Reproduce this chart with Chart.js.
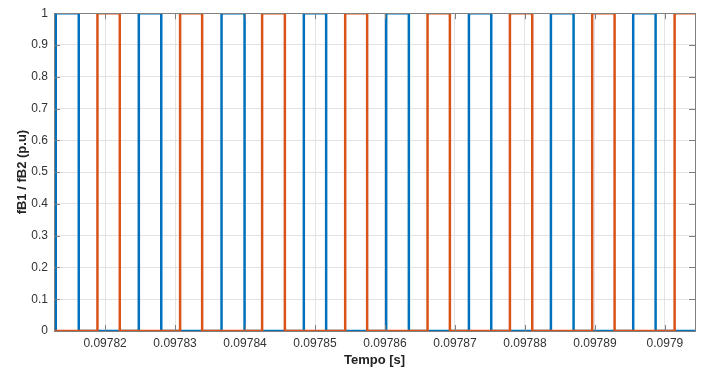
<!DOCTYPE html>
<html>
<head>
<meta charset="utf-8">
<script src="https://cdn.jsdelivr.net/npm/chart.js@4"></script>
<style>
  html, body { margin: 0; padding: 0; background: #fff; }
  #wrap { width: 715px; height: 371px; }
</style>
</head>
<body>
<div id="wrap"><canvas id="chart"></canvas></div>
<script>
// switching edges (seconds)
const blueRise = [0.09781295, 0.09782482, 0.09783664, 0.09784840, 0.09786017, 0.09787199, 0.09788371, 0.09789547];
const blueFall = [0.09781624, 0.09782803, 0.09783993, 0.09785159, 0.09786341, 0.09787518, 0.09788695, 0.09789867];
const orangeRise = [0.09781891, 0.09783072, 0.09784244, 0.09785431, 0.09786608, 0.09787785, 0.09788961, 0.09790139];
const orangeFall = [0.09782210, 0.09783387, 0.09784569, 0.09785745, 0.09786927, 0.09788104, 0.09789281];

const xTicks = [0.09782, 0.09783, 0.09784, 0.09785, 0.09786, 0.09787, 0.09788, 0.09789, 0.0979];
const xTickLabels = ["0.09782", "0.09783", "0.09784", "0.09785", "0.09786", "0.09787", "0.09788", "0.09789", "0.0979"];
const yTicks = [0, 0.1, 0.2, 0.3, 0.4, 0.5, 0.6, 0.7, 0.8, 0.9, 1];
const yTickLabels = ["0", "0.1", "0.2", "0.3", "0.4", "0.5", "0.6", "0.7", "0.8", "0.9", "1"];

const xMin = 0.0978127;
const xMax = 0.0979043;

function squareWave(rises, falls) {
  const edges = rises.map(t => ({ x: t, y: 1 }))
    .concat(falls.map(t => ({ x: t, y: 0 })))
    .sort((a, b) => a.x - b.x);
  const last = edges[edges.length - 1];
  return [{ x: xMin, y: edges[0].y === 1 ? 0 : 1 }, ...edges, { x: xMax, y: last.y }];
}

const axisColor = "#808080";
const textColor = "#333333";

// MATLAB style box with inward tick marks
const boxPlugin = {
  id: "box",
  afterDatasetsDraw(chart) {
    const { ctx, chartArea: a, scales } = chart;
    ctx.save();
    ctx.strokeStyle = axisColor;
    ctx.lineWidth = 1;
    ctx.beginPath();
    xTicks.forEach(v => {
      const px = Math.round(scales.x.getPixelForValue(v)) + 0.5;
      ctx.moveTo(px, a.bottom); ctx.lineTo(px, a.bottom - 6);
      ctx.moveTo(px, a.top); ctx.lineTo(px, a.top + 6);
    });
    yTicks.forEach(v => {
      const py = Math.round(scales.y.getPixelForValue(v)) + 0.5;
      ctx.moveTo(a.left, py); ctx.lineTo(a.left + 6, py);
      ctx.moveTo(a.right, py); ctx.lineTo(a.right - 6, py);
    });
    ctx.stroke();
    ctx.strokeRect(Math.round(a.left) + 0.5, Math.round(a.top) + 0.5,
      Math.round(a.right - a.left), Math.round(a.bottom - a.top));
    ctx.restore();
  }
};

new Chart(document.getElementById("chart"), {
  type: "line",
  data: {
    datasets: [
      {
        label: "fB1",
        data: squareWave(blueRise, blueFall),
        borderColor: "#0072BD",
        borderWidth: 2.5,
        pointRadius: 0,
        stepped: true,
        fill: false,
        order: 1
      },
      {
        label: "fB2",
        data: squareWave(orangeRise, orangeFall),
        borderColor: "#D95319",
        borderWidth: 2.5,
        pointRadius: 0,
        stepped: true,
        fill: false,
        order: 0
      }
    ]
  },
  options: {
    responsive: true,
    maintainAspectRatio: false,
    animation: false,
    layout: { padding: { top: 10, right: 20, left: 0, bottom: 0 } },
    plugins: {
      legend: { display: false },
      tooltip: { enabled: false }
    },
    scales: {
      x: {
        type: "linear",
        min: xMin,
        max: xMax,
        afterBuildTicks: s => { s.ticks = xTicks.map(v => ({ value: v })); },
        afterFit: s => { s.height = 40; },
        grid: { color: "#e3e3e3", drawTicks: false },
        border: { display: false },
        ticks: {
          padding: 5,
          color: textColor,
          font: { family: "Liberation Sans", size: 12 },
          maxRotation: 0,
          callback: (v, i) => xTickLabels[i]
        },
        title: {
          display: true,
          text: "Tempo [s]",
          color: "#222",
          font: { family: "Liberation Sans", size: 13, weight: "bold" },
          padding: { top: 0, bottom: 3 }
        }
      },
      y: {
        min: 0,
        max: 1,
        afterBuildTicks: s => { s.ticks = yTicks.map(v => ({ value: v })); },
        afterFit: s => { s.width = 54; },
        grid: { color: "#e3e3e3", drawTicks: false },
        border: { display: false },
        ticks: {
          padding: 6,
          color: textColor,
          font: { family: "Liberation Sans", size: 12 },
          callback: (v, i) => yTickLabels[i]
        },
        title: {
          display: true,
          text: "fB1 / fB2 (p.u)",
          color: "#222",
          font: { family: "Liberation Sans", size: 13, weight: "bold" },
          padding: { top: 15, bottom: 0 }
        }
      }
    }
  },
  plugins: [boxPlugin]
});
</script>
</body>
</html>
